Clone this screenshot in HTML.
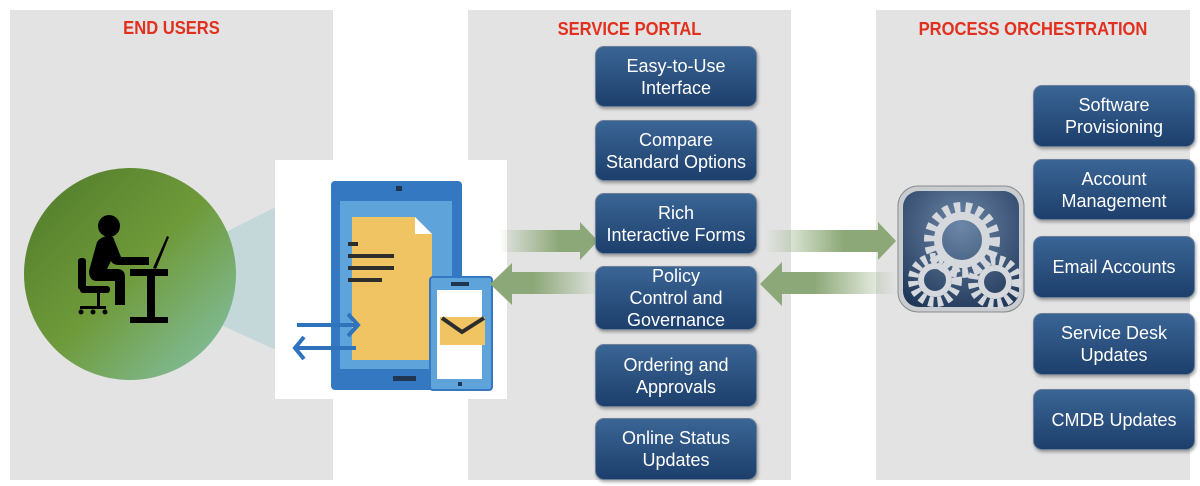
<!DOCTYPE html>
<html><head><meta charset="utf-8"><style>
body{margin:0;width:1200px;height:486px;background:#fff;position:relative;overflow:hidden;font-family:"Liberation Sans",sans-serif}
.p{position:absolute;background:#e3e3e3;top:10px;height:470px}
.t{position:absolute;color:#e2301f;font-weight:bold;font-size:18px;text-align:center;top:19px;transform:scaleX(0.92)}
.b{position:absolute;width:162px;border-radius:9px;background:linear-gradient(#3a6595,#1d3f6c);border:1px solid #6b7f98;box-shadow:1px 2px 3px rgba(0,0,0,.35);color:#fff;font-size:18px;line-height:22px;text-align:center;display:flex;align-items:center;justify-content:center;box-sizing:border-box}
</style></head><body>
<div class="p" style="left:10px;width:323px"></div>
<div class="p" style="left:468px;width:323px"></div>
<div class="p" style="left:876px;width:314px"></div>
<div class="t" style="left:10px;width:323px;top:18px">END USERS</div>
<div class="t" style="left:468px;width:323px">SERVICE PORTAL</div>
<div class="t" style="left:876px;width:314px">PROCESS ORCHESTRATION</div>

<svg style="position:absolute;left:0;top:0" width="1200" height="486">
<defs>
<linearGradient id="cg" x1="0" y1="0" x2="1" y2="1"><stop offset="0" stop-color="#4f7a2a"/><stop offset=".5" stop-color="#6f9a3a"/><stop offset="1" stop-color="#86c4b0"/></linearGradient>
<linearGradient id="ar" x1="0" x2="1"><stop offset="0" stop-color="#8da878" stop-opacity="0"/><stop offset=".6" stop-color="#8da878"/></linearGradient>
<linearGradient id="al" x1="1" x2="0"><stop offset="0" stop-color="#8da878" stop-opacity="0"/><stop offset=".6" stop-color="#8da878"/></linearGradient>
<radialGradient id="gb" cx=".5" cy=".3" r=".8"><stop offset="0" stop-color="#6c87a8"/><stop offset="1" stop-color="#1e3557"/></radialGradient>
</defs>
<polygon points="210,240 276,207 276,350 210,320" fill="#bcd4d6" opacity=".8"/>
<circle cx="130" cy="274" r="106" fill="url(#cg)"/>
<g fill="#000">
<circle cx="109" cy="226" r="11"/>
<path d="M97 242 q6-8 16-5 l8 20 h28 v8 h-30 q-6 0-8-4 l-4 8 h10 q8 0 8 8 v28 h-10 v-24 h-18 q-8 0-8-10z"/>
<rect x="78" y="258" width="8" height="32" rx="3"/>
<rect x="80" y="286" width="30" height="7" rx="3"/>
<rect x="97" y="293" width="3" height="14"/>
<rect x="80" y="306" width="26" height="3"/>
<circle cx="81" cy="312" r="2.5"/><circle cx="105" cy="312" r="2.5"/><circle cx="93" cy="312" r="2.5"/>
<rect x="130" y="269" width="38" height="7"/>
<rect x="147" y="276" width="8" height="44"/>
<rect x="130" y="317" width="38" height="6"/>
<path d="M153 268 l14-32 l2 1 l-13 32z"/>
</g>
<rect x="275" y="160" width="232" height="239" fill="#fff"/>
<rect x="331" y="181" width="131" height="209" rx="4" fill="#3578c2"/>
<rect x="340" y="201" width="112" height="168" fill="#5fa3db"/>
<rect x="396" y="186" width="6" height="5" fill="#1f3550"/>
<rect x="393" y="376" width="23" height="5" fill="#1f3550"/>
<path d="M352 217 h63 l17 17 v126 h-80z" fill="#f0c463"/>
<path d="M415 217 l17 17 h-17z" fill="#fff"/>
<g fill="#2d2d2d"><rect x="348" y="242" width="10" height="4"/><rect x="348" y="254" width="46" height="4"/><rect x="348" y="266" width="46" height="4"/><rect x="348" y="278" width="34" height="4"/></g>
<rect x="430" y="277" width="62" height="113" rx="3" fill="#5fa3db" stroke="#3578c2" stroke-width="2"/>
<rect x="437" y="290" width="45" height="89" fill="#fff"/>
<rect x="451" y="282" width="18" height="4" fill="#1f3550"/>
<rect x="458" y="382" width="4" height="4" fill="#1f3550"/>
<rect x="440" y="317" width="45" height="28" fill="#f0c463"/>
<path d="M442 318 l20 14 l22-14" fill="none" stroke="#2d2d2d" stroke-width="4"/>
<g stroke="#2f73bd" stroke-width="4" fill="none"><path d="M297 325 h60 M348 314 l10 11 l-10 11"/><path d="M296 348 h60 M304 337 l-9 11 l9 11"/></g>
<polygon points="500,230 580,230 580,222 598,241 580,260 580,252 500,252" fill="url(#ar)"/>
<polygon points="600,272 512,272 512,263 490,284 512,305 512,294 600,294" fill="url(#al)"/>
<polygon points="765,230 878,230 878,222 896,241 878,260 878,252 765,252" fill="url(#ar)"/>
<polygon points="897,272 782,272 782,262 760,284 782,306 782,294 897,294" fill="url(#al)"/>
<rect x="898" y="186" width="126" height="126" rx="20" fill="#c9ccd0" stroke="#888" stroke-width="1"/>
<rect x="903" y="191" width="116" height="116" rx="16" fill="url(#gb)"/>
<g fill="none" stroke="#d5d8dc">
<circle cx="962" cy="240" r="32" stroke-width="12" stroke-dasharray="6 5"/>
<circle cx="962" cy="240" r="24" stroke-width="8"/>
<circle cx="935" cy="280" r="22" stroke-width="10" stroke-dasharray="5 4"/>
<circle cx="935" cy="280" r="14" stroke-width="6"/>
<circle cx="995" cy="282" r="22" stroke-width="10" stroke-dasharray="5 4"/>
<circle cx="995" cy="282" r="14" stroke-width="6"/>
</g>
</svg>

<div class="b" style="left:595px;top:46px;height:61px">Easy-to-Use<br>Interface</div>
<div class="b" style="left:595px;top:120px;height:61px">Compare<br>Standard Options</div>
<div class="b" style="left:595px;top:193px;height:61px">Rich<br>Interactive Forms</div>
<div class="b" style="left:595px;top:266px;height:64px">Policy<br>Control and<br>Governance</div>
<div class="b" style="left:595px;top:344px;height:63px">Ordering and<br>Approvals</div>
<div class="b" style="left:595px;top:418px;height:62px">Online Status<br>Updates</div>

<div class="b" style="left:1033px;top:85px;height:62px">Software<br>Provisioning</div>
<div class="b" style="left:1033px;top:159px;height:61px">Account<br>Management</div>
<div class="b" style="left:1033px;top:236px;height:62px">Email Accounts</div>
<div class="b" style="left:1033px;top:313px;height:62px">Service Desk<br>Updates</div>
<div class="b" style="left:1033px;top:389px;height:61px">CMDB Updates</div>
</body></html>
